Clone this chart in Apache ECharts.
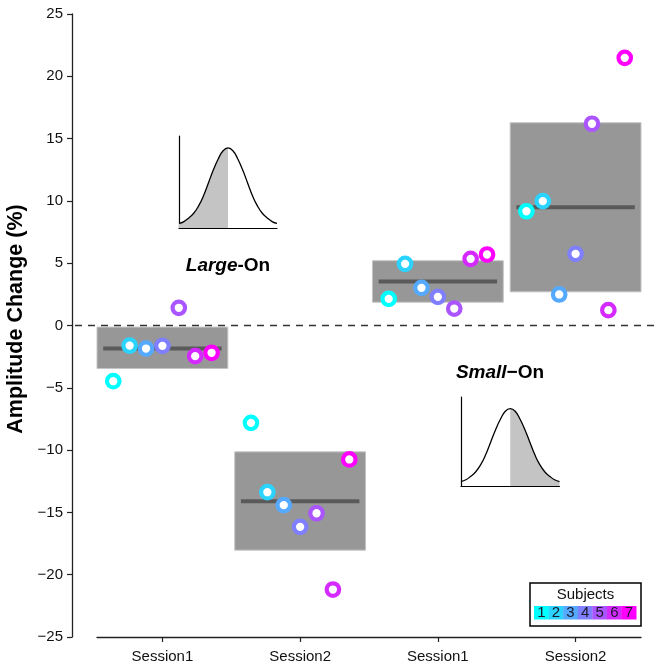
<!DOCTYPE html>
<html>
<head>
<meta charset="utf-8">
<script src="https://cdn.jsdelivr.net/npm/echarts@6/dist/echarts.min.js"></script>
<style>
html,body{margin:0;padding:0;background:#fff;}
#chart{width:657px;height:665px;}
</style>
</head>
<body>
<div id="chart"></div>
<script>
// ---------- data ----------
const sessionLabels = ['Session1', 'Session2', 'Session1', 'Session2'];
const subjectNames = ['1', '2', '3', '4', '5', '6', '7'];
const subjectColors = ['#00FFFF', '#2AD4FF', '#55AAFF', '#7F7FFF', '#AA55FF', '#D42AFF', '#FF00FF'];

// values per session (index = subject 1..7)
const largeSession1 = [-4.47, -1.61, -1.85, -1.63, 1.42, -2.46, -2.19];
const largeSession2 = [-7.81, -13.38, -14.42, -16.16, -15.07, -21.19, -10.75];
const smallSession1 = [2.14, 4.95, 3.02, 2.30, 1.36, 5.35, 5.70];
const smallSession2 = [9.17, 9.98, 2.49, 5.75, 16.19, 1.23, 21.48];

// summary boxes: [low, high, centre line]
const boxLow = [-3.45, -18.03, 1.87, 2.70];
const boxHigh = [-0.13, -10.14, 5.20, 16.27];
const boxMid = [-1.85, -14.10, 3.53, 9.49];

const referenceLevel = 0;

// bell-curve illustration (x in % of inset width, y in % of inset height)
const bellX = [0, 5, 10, 15, 20, 25, 30, 35, 40, 45, 50, 55, 60, 65, 70, 75, 80, 85, 90, 95, 100];
const bellY = [5, 7, 11, 16, 24, 35, 49, 63, 75, 84, 87, 84, 75, 63, 49, 35, 24, 16, 11, 7, 5];

const yTicks = { min: -25, max: 25, step: 5 };

// ---------- build ----------
const sessions = [largeSession1, largeSession2, smallSession1, smallSession2];
const FONT = '"Liberation Sans", Arial, Helvetica, sans-serif';
const jitter = 0.119;

const scatterSeries = subjectNames.map((name, s) => ({
  type: 'scatter',
  name: 'Subject ' + name,
  xAxisIndex: 0, yAxisIndex: 0,
  symbol: 'circle',
  symbolSize: 12.5,
  z: 5,
  itemStyle: { color: '#ffffff', borderColor: subjectColors[s], borderWidth: 4.2, opacity: 1 },
  emphasis: { disabled: true },
  data: sessions.map((vals, g) => [g + 1 + (s - 3) * jitter, vals[s]])
}));

const boxData = boxLow.map((lo, i) => [i + 1, lo, boxHigh[i], boxMid[i]]);

const bellFull = bellX.map((x, i) => [x, bellY[i]]);
const bellLeft = bellFull.filter(p => p[0] <= 50);
const bellRight = bellFull.filter(p => p[0] >= 50);

function insetAxes(gridIndex) {
  return {
    x: {
      type: 'value', gridIndex, min: 0, max: 100,
      axisLine: { show: true, lineStyle: { color: '#000', width: 1.2 } },
      axisTick: { show: false }, axisLabel: { show: false }, splitLine: { show: false }
    },
    y: {
      type: 'value', gridIndex, min: 0, max: 100,
      axisLine: { show: true, lineStyle: { color: '#000', width: 1.2 } },
      axisTick: { show: false }, axisLabel: { show: false }, splitLine: { show: false }
    }
  };
}
const insetA = insetAxes(1);
const insetB = insetAxes(2);

const legendCellW = 14.6;
const legendGraphics = [
  { type: 'rect', shape: { x: 530, y: 583, width: 111, height: 43 },
    style: { fill: '#fff', stroke: '#000', lineWidth: 1.5 }, z: 20 },
  { type: 'text', x: 585.5, y: 595, z: 21,
    style: { text: 'Subjects', font: '15px ' + FONT, fill: '#111', align: 'center', verticalAlign: 'middle' } }
];
subjectNames.forEach((n, i) => {
  legendGraphics.push({ type: 'rect', z: 21,
    shape: { x: 534 + i * legendCellW, y: 606, width: legendCellW + 0.3, height: 13.5 },
    style: { fill: subjectColors[i] } });
  legendGraphics.push({ type: 'text', z: 22, x: 534 + (i + 0.5) * legendCellW, y: 613,
    style: { text: n, font: '15px ' + FONT, fill: '#1a1a2a', align: 'center', verticalAlign: 'middle' } });
});

const gridBase = { outerBoundsMode: 'none', containLabel: false };

const option = {
  animation: false,
  backgroundColor: '#ffffff',
  textStyle: { fontFamily: FONT },
  grid: [
    Object.assign({ left: 97, right: 16, top: 14, bottom: 28 }, gridBase),
    Object.assign({ left: 179, top: 136, width: 98, height: 92 }, gridBase),
    Object.assign({ left: 461, top: 397, width: 98.5, height: 89 }, gridBase),
    Object.assign({ left: 75, right: 0, top: 14, bottom: 28 }, gridBase)
  ],
  xAxis: [
    {
      type: 'value', gridIndex: 0, min: 0.525, max: 4.475,
      axisLine: { show: true, onZero: false, lineStyle: { color: '#222', width: 1.3 } },
      axisTick: { show: true, length: 5, customValues: [1, 2, 3, 4], lineStyle: { color: '#222', width: 1.2 } },
      axisLabel: { show: true, customValues: [1, 2, 3, 4], margin: 12, fontSize: 15, color: '#111', fontFamily: FONT,
        formatter: v => sessionLabels[Math.round(v) - 1] },
      splitLine: { show: false }
    },
    insetA.x,
    insetB.x,
    { type: 'value', gridIndex: 3, min: 0, max: 1, show: false }
  ],
  yAxis: [
    {
      type: 'value', gridIndex: 0, min: yTicks.min, max: yTicks.max, interval: yTicks.step,
      offset: 25,
      name: 'Amplitude Change (%)', nameLocation: 'middle', nameGap: 43, nameRotate: 90,
      nameTextStyle: { fontSize: 21.5, fontWeight: 'bold', color: '#000', fontFamily: FONT, padding: [0, 0, 0, 13] },
      axisLine: { show: true, onZero: false, lineStyle: { color: '#222', width: 1.3 } },
      axisTick: { show: true, length: 5, lineStyle: { color: '#222', width: 1.2 } },
      axisLabel: { fontSize: 15, color: '#111', margin: 9, fontFamily: FONT,
        formatter: v => String(v).replace('-', '\u2212') },
      splitLine: { show: false }
    },
    insetA.y,
    insetB.y,
    { type: 'value', gridIndex: 3, min: yTicks.min, max: yTicks.max, show: false }
  ],
  series: [
    {
      type: 'line', xAxisIndex: 3, yAxisIndex: 3, z: 3, silent: true,
      symbol: 'none', data: [[0, referenceLevel], [1, referenceLevel]],
      lineStyle: { color: '#333', width: 1.5, type: [7, 6] }
    },
    {
      type: 'custom', xAxisIndex: 0, yAxisIndex: 0, z: 2, silent: true,
      data: boxData,
      renderItem: function (params, api) {
        const x = api.value(0);
        const p1 = api.coord([x - 0.475, api.value(2)]);
        const p2 = api.coord([x + 0.475, api.value(1)]);
        const m1 = api.coord([x - 0.43, api.value(3)]);
        const m2 = api.coord([x + 0.43, api.value(3)]);
        return {
          type: 'group',
          children: [
            { type: 'rect', shape: { x: p1[0], y: p1[1], width: p2[0] - p1[0], height: p2[1] - p1[1] },
              style: { fill: '#979797', stroke: '#c4c4c4', lineWidth: 1 } },
            { type: 'line', shape: { x1: m1[0], y1: m1[1], x2: m2[0], y2: m2[1] },
              style: { stroke: '#5a5a5a', lineWidth: 4 } }
          ]
        };
      }
    },
    ...scatterSeries,
    // inset A (Large-On): left half shaded
    { type: 'line', xAxisIndex: 1, yAxisIndex: 1, data: bellLeft, smooth: true, symbol: 'none', silent: true,
      lineStyle: { width: 0 }, areaStyle: { color: '#c4c4c4', opacity: 1 }, z: 2 },
    { type: 'line', xAxisIndex: 1, yAxisIndex: 1, data: bellFull, smooth: true, symbol: 'none', silent: true,
      lineStyle: { color: '#000', width: 1.3 }, z: 3 },
    // inset B (Small-On): right half shaded
    { type: 'line', xAxisIndex: 2, yAxisIndex: 2, data: bellRight, smooth: true, symbol: 'none', silent: true,
      lineStyle: { width: 0 }, areaStyle: { color: '#c4c4c4', opacity: 1 }, z: 2 },
    { type: 'line', xAxisIndex: 2, yAxisIndex: 2, data: bellFull, smooth: true, symbol: 'none', silent: true,
      lineStyle: { color: '#000', width: 1.3 }, z: 3 }
  ],
  graphic: [
    { type: 'text', x: 228, y: 266, z: 10,
      style: { text: '{i|Large}{b|-On}', align: 'center', verticalAlign: 'middle',
        rich: {
          i: { fontStyle: 'italic', fontWeight: 'bold', fontSize: 19, fontFamily: FONT, fill: '#000', color: '#000' },
          b: { fontWeight: 'bold', fontSize: 19, fontFamily: FONT, fill: '#000', color: '#000' }
        } } },
    { type: 'text', x: 500, y: 373, z: 10,
      style: { text: '{i|Small}{b|\u2212On}', align: 'center', verticalAlign: 'middle',
        rich: {
          i: { fontStyle: 'italic', fontWeight: 'bold', fontSize: 19, fontFamily: FONT, fill: '#000', color: '#000' },
          b: { fontWeight: 'bold', fontSize: 19, fontFamily: FONT, fill: '#000', color: '#000' }
        } } },
    ...legendGraphics
  ]
};

const chart = echarts.init(document.getElementById('chart'), null, { renderer: 'canvas' });
chart.setOption(option);
</script>
</body>
</html>
